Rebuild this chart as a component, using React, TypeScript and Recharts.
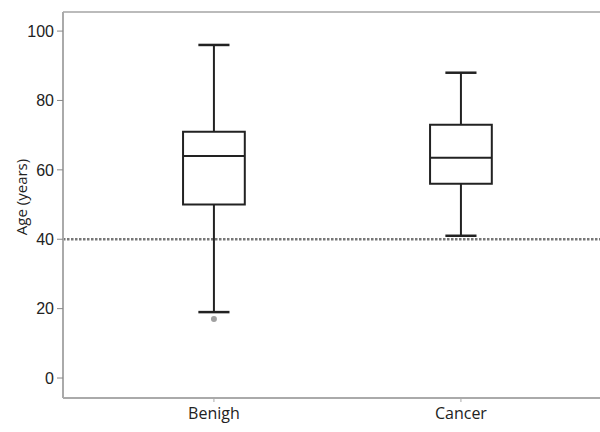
import { ComposedChart, ReferenceArea, ReferenceLine, Scatter, XAxis, YAxis } from "recharts"

const categories = ["Benigh", "Cancer"]
const whiskerLow = [19, 41]
const q1 = [50, 56]
const median = [64, 63.5]
const q3 = [71, 73]
const whiskerHigh = [96, 88]

const outlierCategory = ["Benigh"]
const outlierAge = [17]

const yTicks = [0, 20, 40, 60, 80, 100]
const yDomain: [number, number] = [-5.76, 105.5]
const xDomain: [number, number] = [0.389, 2.563]
const cutoffAge = 40

const BOX_HALF = 0.125
const CAP_HALF = 0.063
const INK = "#222"
const FRAME = "#aaa"

const outliers = outlierCategory.map((c, i) => ({
  x: categories.indexOf(c) + 1,
  y: outlierAge[i],
}))

function AxisTitle(props: any) {
  const vb = props.viewBox ?? { x: 0, y: 0, width: 0, height: 0 }
  const cx = vb.x + 21
  const cy = vb.y + vb.height / 2 - 8
  return (
    <text
      x={cx}
      y={cy}
      transform={`rotate(-90 ${cx} ${cy})`}
      textAnchor="middle"
      dominantBaseline="central"
      fontSize={15}
      fontFamily="Open Sans"
      fill={INK}
    >
      Age (years)
    </text>
  )
}

export default function App() {
  return (
    <div style={{ position: "absolute", left: 0, top: 0, background: "#fff" }}>
      <ComposedChart
        width={600}
        height={432}
        data={outliers}
        margin={{ top: 12, right: 0, bottom: 0, left: 0 }}
      >
        <XAxis
          type="number"
          dataKey="x"
          domain={xDomain}
          ticks={[1, 2]}
          allowDataOverflow
          tickFormatter={(v: number) => categories[v - 1] ?? ""}
          height={34}
          axisLine={{ stroke: FRAME, strokeWidth: 2 }}
          tickLine={{ stroke: FRAME }}
          tickSize={4}
          tickMargin={6}
          tick={{ fontSize: 16, fill: INK, fontFamily: "Open Sans" }}
        />
        <YAxis
          type="number"
          dataKey="y"
          domain={yDomain}
          ticks={yTicks}
          allowDataOverflow
          width={63}
          axisLine={{ stroke: FRAME, strokeWidth: 2 }}
          tickLine={{ stroke: "#888" }}
          tickSize={6}
          tickMargin={3}
          tick={{ fontSize: 16, fill: INK, fontFamily: "Liberation Sans" }}
          label={<AxisTitle />}
        />
        <ReferenceLine y={yDomain[1]} stroke="#bbb" strokeWidth={2} ifOverflow="visible" />
        <ReferenceLine
          y={cutoffAge}
          stroke="#777"
          strokeWidth={2.5}
          strokeDasharray="2.5 1.5"
          ifOverflow="visible"
        />
        {categories.map((c, i) => {
          const x = i + 1
          return [
            <ReferenceLine
              key={c + "-up"}
              segment={[{ x, y: q3[i] }, { x, y: whiskerHigh[i] }]}
              stroke={INK}
              strokeWidth={2}
            />,
            <ReferenceLine
              key={c + "-down"}
              segment={[{ x, y: whiskerLow[i] }, { x, y: q1[i] }]}
              stroke={INK}
              strokeWidth={2}
            />,
            <ReferenceArea
              key={c + "-box"}
              x1={x - BOX_HALF}
              x2={x + BOX_HALF}
              y1={q1[i]}
              y2={q3[i]}
              fill="#fff"
              fillOpacity={1}
              stroke={INK}
              strokeWidth={2}
            />,
            <ReferenceLine
              key={c + "-med"}
              segment={[{ x: x - BOX_HALF, y: median[i] }, { x: x + BOX_HALF, y: median[i] }]}
              stroke={INK}
              strokeWidth={2}
            />,
          ]
        })}
        <Scatter
          dataKey="y"
          isAnimationActive={false}
          shape={(p: any) => <circle cx={p.cx} cy={p.cy} r={3} fill="#a0a0a0" />}
        />
        {categories.map((c, i) => {
          const x = i + 1
          return [
            <ReferenceLine
              key={c + "-capHi"}
              segment={[{ x: x - CAP_HALF, y: whiskerHigh[i] }, { x: x + CAP_HALF, y: whiskerHigh[i] }]}
              stroke={INK}
              strokeWidth={2.5}
            />,
            <ReferenceLine
              key={c + "-capLo"}
              segment={[{ x: x - CAP_HALF, y: whiskerLow[i] }, { x: x + CAP_HALF, y: whiskerLow[i] }]}
              stroke={INK}
              strokeWidth={2.5}
            />,
          ]
        })}
      </ComposedChart>
    </div>
  )
}
